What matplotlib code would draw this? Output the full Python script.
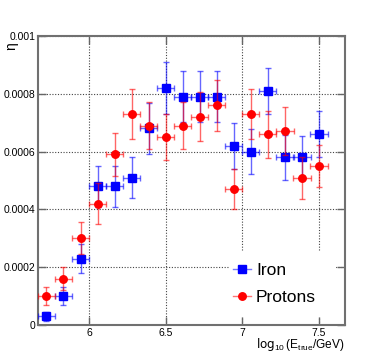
import matplotlib
matplotlib.use("Agg")
import matplotlib.pyplot as plt
from matplotlib.lines import Line2D
from matplotlib.patches import Rectangle

plt.rcParams['font.family'] = ['Liberation Sans', 'DejaVu Sans']
plt.rcParams['mathtext.default'] = 'regular'

# ---- data ----
log_e = [5.722, 5.833, 5.944, 6.056, 6.167, 6.278, 6.389, 6.5, 6.611,
         6.722, 6.833, 6.944, 7.056, 7.167, 7.278, 7.389, 7.5]
log_e_err = [0.0556] * 17

iron_eta = [0.00003, 0.00010, 0.00023, 0.00048, 0.00048, 0.00051, 0.00068,
            0.00082, 0.00079, 0.00079, 0.00079, 0.00062, 0.00060, 0.00081,
            0.00058, 0.00058, 0.00066]
iron_err = [0.000015, 0.00003, 0.00005, 0.00007, 0.00007, 0.00007, 0.000087,
            0.00009, 0.000088, 0.000089, 0.000088, 0.00008, 0.000078, 0.00008,
            0.000077, 0.000075, 0.00008]

proton_eta = [0.00010, 0.00016, 0.00030, 0.00042, 0.00059, 0.00073, 0.00069,
              0.00065, 0.00069, 0.00072, 0.00076, 0.00047, 0.00073, 0.00066,
              0.00067, 0.00051, 0.00055]
proton_err = [0.00003, 0.00004, 0.000055, 0.00007, 0.000076, 0.000085, 0.00008,
              0.00008, 0.000082, 0.000085, 0.000087, 0.00007, 0.000085, 0.000082,
              0.000083, 0.000073, 0.000074]

y_ticks = [0, 0.0002, 0.0004, 0.0006, 0.0008, 0.001]
y_tick_labels = ['0', '0.0002', '0.0004', '0.0006', '0.0008', '0.001']
x_ticks = [6, 6.5, 7, 7.5]
x_tick_labels = ['6', '6.5', '7', '7.5']

# ---- figure ----
fig = plt.figure(figsize=(3.82, 3.61), dpi=100)
ax = fig.add_axes([0.0995, 0.0997, 0.8025, 0.8006])

ax.set_xlim(5.6667, 7.6667)
ax.set_ylim(0, 0.001)
ax.set_xticks(x_ticks)
ax.set_xticklabels(x_tick_labels)
ax.set_yticks(y_ticks)
ax.set_yticklabels(y_tick_labels)

ax.set_axisbelow(True)
ax.grid(True, color='#444444', linestyle=(0, (1, 1.5)), linewidth=0.8)

ax.tick_params(direction='in', length=5.8, width=1.0, color='#666666',
               top=True, right=True, labelsize=7.5, pad=2)
for sp in ax.spines.values():
    sp.set_color('#707070')
    sp.set_linewidth(1.5)

# white legend background covering grid
ax.add_patch(Rectangle((0.623, 0.028), 0.349, 0.228, transform=ax.transAxes,
                       facecolor='white', edgecolor='none', zorder=1))

ax.errorbar(log_e, iron_eta, xerr=log_e_err, yerr=iron_err, fmt='s',
            color='#0000ff', ecolor=(0, 0, 1, 0.6), elinewidth=1.0,
            capsize=2, capthick=1.0, markersize=5.3, zorder=3)
ax.errorbar(log_e, proton_eta, xerr=log_e_err, yerr=proton_err, fmt='o',
            color='#ff0000', ecolor=(1, 0, 0, 0.6), elinewidth=1.0,
            capsize=2, capthick=1.0, markersize=5.4, zorder=4)

h_iron = Line2D([], [], color=(0, 0, 1, 0.55), marker='s', markersize=5.3,
                markerfacecolor='#0000ff', markeredgecolor='#0000ff', lw=1)
h_prot = Line2D([], [], color=(1, 0, 0, 0.55), marker='o', markersize=5.4,
                markerfacecolor='#ff0000', markeredgecolor='#ff0000', lw=1)
ax.legend([h_iron, h_prot], ['Iron', 'Protons'], loc='center left',
          bbox_to_anchor=(0.635, 0.143), frameon=False, fontsize=12.5,
          handlelength=1.05, handletextpad=0.3, labelspacing=0.7,
          borderpad=0, borderaxespad=0)

ax.text(1.0, -0.081, r'$\log_{10}(E_{true}/GeV)$', transform=ax.transAxes,
        ha='right', va='baseline', fontsize=8.6)
fig.text(11 / 382, 1 - 46 / 361, 'η', rotation=90, ha='center', va='center',
         fontsize=10)

fig.savefig('out.png', dpi=100)
